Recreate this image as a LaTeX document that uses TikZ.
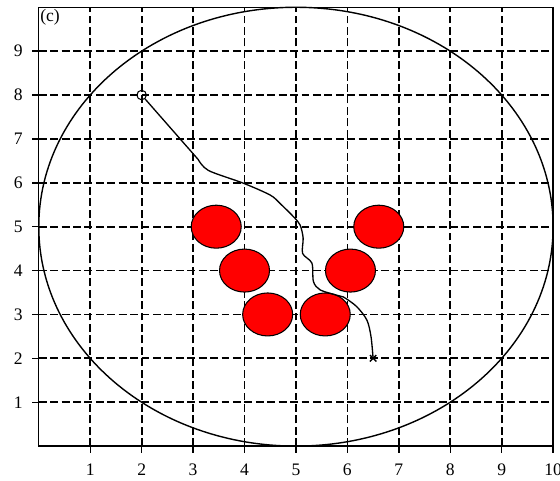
\documentclass[tikz,border=0pt]{standalone}
\usepackage{fontspec}
\setmainfont{Liberation Serif}
\usetikzlibrary{shapes.geometric,shapes.misc}

\begin{document}
\begin{tikzpicture}[
    x=1.0286cm, y=0.8776cm,
    every node/.style={font=\fontsize{10}{12}\selectfont},
    gridline/.style={dash pattern=on 4.5pt off 2pt, line width=1pt},
    frame/.style={line width=0.8pt},
    obstacle/.style={ellipse, draw=black, fill=red, line width=0.6pt, minimum width=1.0cm, minimum height=0.86cm, inner sep=0pt},
    startmark/.style={circle, draw, line width=0.6pt, minimum size=0.19cm, inner sep=0pt},
    goalmark/.style={cross out, draw, line width=0.8pt, minimum size=0.1cm, inner sep=0pt},
    trajectory/.style={line width=0.75pt}
  ]
  \useasboundingbox (-0.754,-0.795) rectangle (10.134,10.166);

  \foreach \i in {1,...,9} {
    \draw[gridline] (\i,0) -- (\i,10);
    \draw[gridline] (0,\i) -- (10,\i);
  }
  \foreach \i in {1,...,10} {
    \draw[frame] (\i,0) -- (\i,-0.16);
    \node (xl\i) at (\i,-0.547) {\i};
  }
  \foreach \i in {1,...,9} {
    \draw[frame] (0,\i) -- (-0.14,\i);
    \node (yl\i) at (-0.4,\i) {\i};
  }
  \draw[frame] (0,0) rectangle (10,10);
  \draw[frame] (5,5) circle (5);
  \node (tag) at (0.22,9.78) {(c)};

  \foreach \cx/\cy [count=\k] in {3.45/5, 4/4, 4.45/3, 5.57/3, 6.06/4, 6.61/5}
    \node[obstacle] (obs\k) at (\cx,\cy) {};

  \node[startmark] (start) at (2,8) {};
  \node[goalmark] (goal) at (6.5,2) {};
  \draw[trajectory] (start) -- (3.10,6.53)
    plot[smooth, tension=0.5] coordinates {(3.10,6.53) (3.30,6.28) (3.98,5.99) (4.50,5.72) (4.69,5.53)
      (4.95,5.23) (5.08,5.04) (5.14,4.74) (5.13,4.39) (5.31,4.17) (5.34,3.75) (5.47,3.56)
      (5.79,3.44) (5.92,3.40) (6.18,3.18) (6.38,2.87) (6.46,2.49) (goal)};
\end{tikzpicture}
\end{document}
